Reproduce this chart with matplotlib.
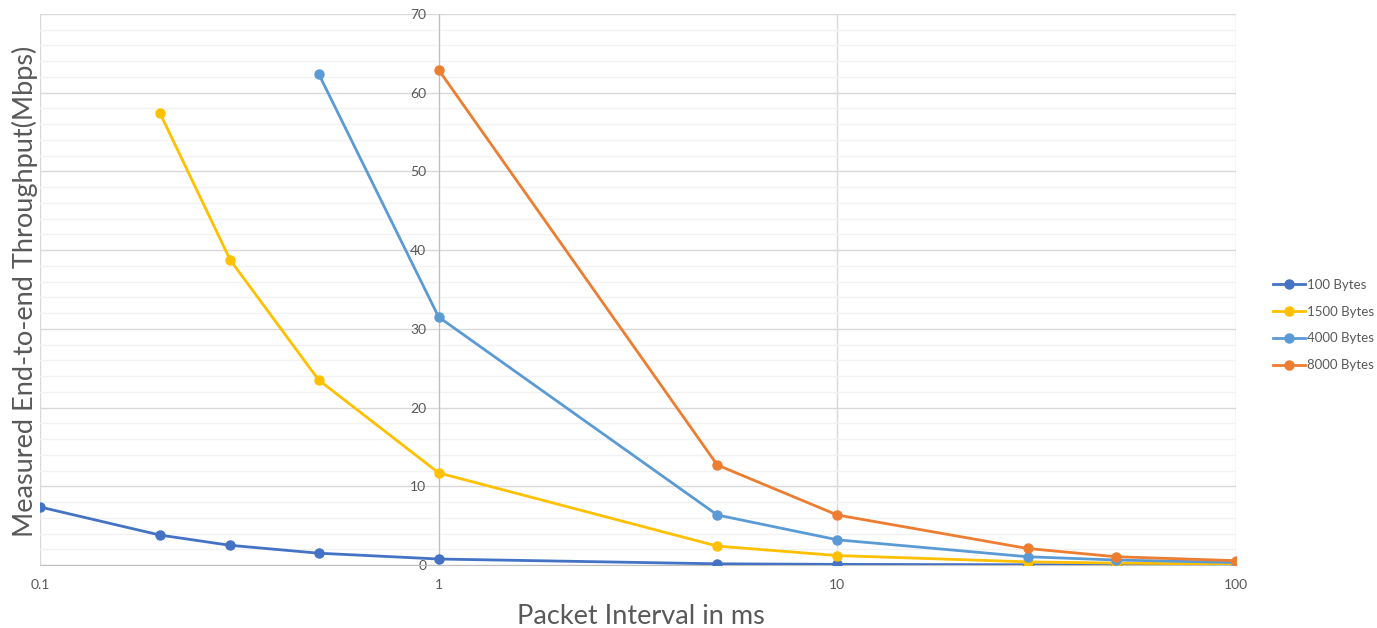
import numpy as np
import matplotlib.pyplot as plt
from matplotlib.ticker import FixedLocator, FixedFormatter, MultipleLocator, NullLocator

plt.rcParams['font.family'] = ['Lato', 'DejaVu Sans']

# packet interval (ms) and measured throughput (Mbps)
x_100 = [0.1, 0.2, 0.3, 0.5, 1, 5, 10, 30, 50, 100]
y_100 = [7.37, 3.8, 2.5, 1.5, 0.76, 0.15, 0.08, 0.03, 0.02, 0.01]

x_1500 = [0.2, 0.3, 0.5, 1, 5, 10, 30, 50, 100]
y_1500 = [57.4, 38.75, 23.5, 11.7, 2.4, 1.2, 0.4, 0.24, 0.12]

x_4000 = [0.5, 1, 5, 10, 30, 50, 100]
y_4000 = [62.4, 31.5, 6.35, 3.2, 1.05, 0.63, 0.32]

x_8000 = [1, 5, 10, 30, 50, 100]
y_8000 = [62.9, 12.7, 6.35, 2.1, 1.05, 0.55]

series = [
    (x_100, y_100, '100 Bytes', '#4472C4'),
    (x_1500, y_1500, '1500 Bytes', '#FFC000'),
    (x_4000, y_4000, '4000 Bytes', '#5B9BD5'),
    (x_8000, y_8000, '8000 Bytes', '#ED7D31'),
]

fig = plt.figure(figsize=(13.77, 6.28), dpi=100)
ax = fig.add_axes([40/1377, 63/628, 1196/1377, 551/628])

for xs, ys, lab, col in series:
    ax.plot(xs, ys, color=col, lw=2, marker='o', ms=6.5, label=lab, zorder=3)

ax.set_xscale('log')
ax.set_xlim(0.1, 100)
ax.set_ylim(0, 70)

ax.xaxis.set_major_locator(FixedLocator([0.1, 1, 10, 100]))
ax.xaxis.set_major_formatter(FixedFormatter(['0.1', '1', '10', '100']))
ax.xaxis.set_minor_locator(NullLocator())
ax.yaxis.set_major_locator(MultipleLocator(10))
ax.yaxis.set_minor_locator(MultipleLocator(2))

ax.grid(True, which='major', color='#D9D9D9', lw=1, zorder=0)
ax.grid(True, which='minor', axis='y', color='#F2F2F2', lw=1, zorder=0)
ax.set_axisbelow(True)

ax.spines['left'].set_position(('data', 1))
ax.spines['left'].set_color('#BFBFBF')
ax.spines['bottom'].set_color('#BFBFBF')
ax.spines['top'].set_visible(False)
ax.spines['right'].set_visible(False)

ax.tick_params(axis='both', which='both', length=0, labelsize=10, labelcolor='#595959')
ax.tick_params(axis='y', pad=9)
ax.tick_params(axis='x', pad=10)

ax.set_xlabel('Packet Interval in ms', fontsize=19.5, color='#595959')
ax.set_ylabel('Measured End-to-end Throughput(Mbps)', fontsize=19.5, color='#595959')
ax.xaxis.set_label_coords(0.502, -0.071)
ax.yaxis.set_label_coords(-0.002, 0.497)

ax.legend(loc='center left', bbox_to_anchor=(1261/1377, 1 - 325/628),
          bbox_transform=fig.transFigure, frameon=False, fontsize=9.5,
          labelcolor='#595959', handlelength=2.4, handletextpad=0.2,
          labelspacing=1.12, markerscale=1.0)

fig.savefig('out.png', dpi=100)
